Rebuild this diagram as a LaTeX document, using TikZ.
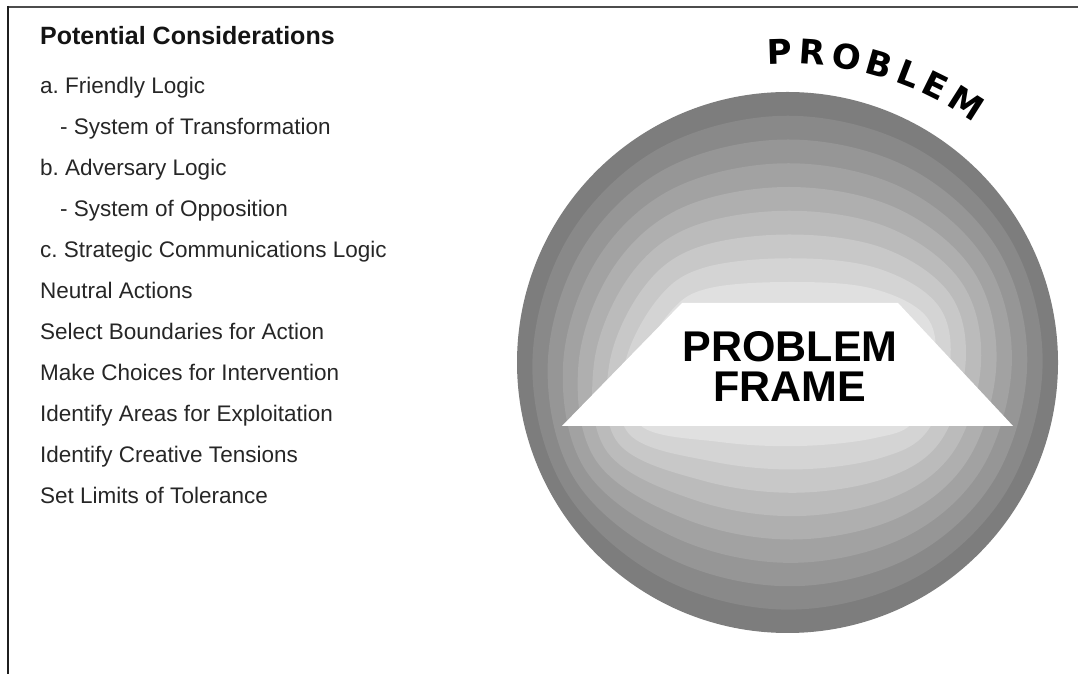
\documentclass[tikz,border=0pt]{standalone}
\usepackage{fontspec}
\setmainfont{Liberation Sans}
\newfontfamily\arcfont{DejaVu Sans}
\usetikzlibrary{calc, decorations.text, positioning}
\newcommand{\drawe}{\draw[line width=2.5pt]}
\frenchspacing

\begin{document}
\begin{tikzpicture}[x=1pt, y=1pt,
  item/.style={anchor=base west, inner sep=0pt, text=black!85, font=\fontsize{22.5}{22.5}\selectfont},
  head/.style={item, text=black!92, font=\fontsize{25}{25}\selectfont\bfseries}]
\useasboundingbox (0,0) rectangle (1078,674);
% Frame
\drawe[black!70] (7,667) -- (1078,667);
\drawe[black!88] (8,668) -- (8,0);

% List of considerations
\node[head] (head) at (40,629) {Potential Considerations};
\foreach \x/\t [count=\i from 0] in {40/a. Friendly Logic, 60/- System of Transformation,
    40/b. Adversary Logic, 60/- System of Opposition, 40/c. Strategic Communications Logic,
    40/Neutral Actions, 40/Select Boundaries for Action, 40/Make Choices for Intervention,
    40/Identify Areas for Exploitation, 40/Identify Creative Tensions, 40/Set Limits of Tolerance}
  \node[item] (item\i) at (\x,580-41*\i) {\t};

% Problem circle
\coordinate (c) at (787.5,311.5);
\fill[black!51] (c) circle (270.5);
\begin{scope}
\clip (c) circle (270.5);
\foreach \k in {1,...,8}{
  \foreach \ang/\ix/\iy [count=\j] in {0/935/360, 30/925/315, 60/870/288, 90/790/282,
      120/710/288, 150/672/310, 180/640/365, 210/640/425, 240/720/442, 270/800/446,
      300/875/438, 330/915/420}{
    \pgfmathsetmacro\px{(787.5+270.5*cos(\ang))*(1-\k/8)+\ix*\k/8}
    \pgfmathsetmacro\py{(311.5+270.5*sin(\ang))*(1-\k/8)+(674-\iy)*\k/8}
    \coordinate (p\j) at (\px,\py);
  }
  \pgfmathsetmacro\gr{51-39*\k/8}
  \fill[black!\gr] plot[smooth cycle, tension=0.6] coordinates {(p1) (p2) (p3) (p4) (p5) (p6)
      (p7) (p8) (p9) (p10) (p11) (p12)};
}
\end{scope}

% Problem frame
\fill[white] (682,371) -- (898,371) -- (1013,248) -- (562,248) -- cycle;
\node[align=center, inner sep=0pt, font=\fontsize{43}{40}\selectfont\bfseries] (frame) at (790,308) {PROBLEM\\FRAME};

% Curved title
\coordinate (arcc) at (790,294);
\path[decorate, decoration={text along path, text align={fit to path},
    text={|\arcfont\bfseries\fontsize{34}{34}\selectfont|PROBLEM}}]
  ($(arcc)+(94:316)$) arc[start angle=94, end angle=54.5, radius=316];

\end{tikzpicture}
\end{document}
